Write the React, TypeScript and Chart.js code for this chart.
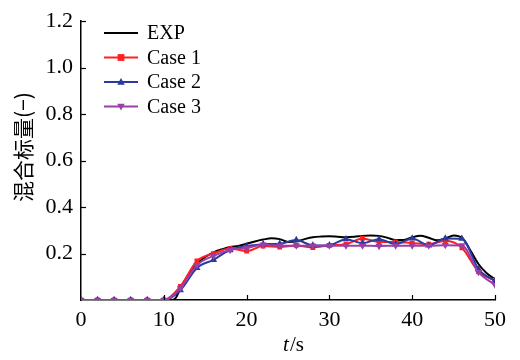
import React, { useEffect, useRef } from 'react';
import { Chart, registerables } from 'chart.js';

Chart.register(...registerables);

// ---- data ----
const expTime = [0, 2, 4, 6, 8, 10, 11, 11.5, 12, 13, 14, 15, 16, 17, 18, 19, 20, 21, 22, 23, 24, 25, 26, 27, 28, 29, 30, 31, 32, 33, 34, 35, 36, 37, 38, 39, 40, 41, 42, 43, 44, 45, 46, 47, 48, 49, 50];
const expValues = [0, 0, 0, 0, 0, 0, 0, 0.012, 0.05, 0.11, 0.155, 0.185, 0.205, 0.218, 0.228, 0.233, 0.242, 0.252, 0.26, 0.266, 0.262, 0.25, 0.252, 0.262, 0.27, 0.273, 0.274, 0.272, 0.27, 0.272, 0.276, 0.278, 0.276, 0.268, 0.258, 0.258, 0.27, 0.277, 0.268, 0.257, 0.265, 0.278, 0.268, 0.215, 0.155, 0.115, 0.09];

const caseTime = [0, 2, 4, 6, 8, 10, 12, 14, 16, 18, 20, 22, 24, 26, 28, 30, 32, 34, 36, 38, 40, 42, 44, 46, 48, 50];
const case1Values = [0, 0, 0, 0, 0, 0, 0.058, 0.168, 0.2, 0.222, 0.21, 0.232, 0.228, 0.235, 0.226, 0.235, 0.24, 0.265, 0.25, 0.25, 0.245, 0.24, 0.255, 0.225, 0.122, 0.085];
const case2Values = [0, 0, 0, 0, 0, 0, 0.042, 0.138, 0.173, 0.215, 0.232, 0.24, 0.242, 0.258, 0.235, 0.236, 0.262, 0.245, 0.262, 0.24, 0.265, 0.235, 0.265, 0.264, 0.133, 0.081];
const case3Values = [0, 0, 0, 0, 0, 0, 0.05, 0.15, 0.19, 0.215, 0.224, 0.238, 0.234, 0.234, 0.234, 0.234, 0.234, 0.234, 0.232, 0.234, 0.234, 0.234, 0.236, 0.235, 0.12, 0.065];

const seriesLabels = ['EXP', 'Case 1', 'Case 2', 'Case 3'];
const seriesColors = ['#000000', '#ff1f1f', '#2b3a9e', '#9a3fa8'];
const seriesMarkers = ['none', 'rect', 'triangle', 'triangleDown'];

const xTicks = [0, 10, 20, 30, 40, 50];
const yTicks = [0.2, 0.4, 0.6, 0.8, 1.0, 1.2];

const xTitleItalic = 't';
const xTitleRest = '/s';
const yTitle = '混合标量(−)';

const SERIF = '"Liberation Serif", "Times New Roman", serif';
const CJK = '"Noto Sans CJK SC", sans-serif';

function drawMarker(ctx: CanvasRenderingContext2D, kind: string, x: number, y: number, r: number, color: string) {
  ctx.save();
  ctx.fillStyle = color;
  ctx.beginPath();
  if (kind === 'rect') {
    ctx.rect(x - r, y - r, 2 * r, 2 * r);
  } else if (kind === 'triangle') {
    ctx.moveTo(x, y - r * 1.2);
    ctx.lineTo(x + r * 1.1, y + r * 0.8);
    ctx.lineTo(x - r * 1.1, y + r * 0.8);
    ctx.closePath();
  } else if (kind === 'triangleDown') {
    ctx.moveTo(x, y + r * 1.2);
    ctx.lineTo(x + r * 1.1, y - r * 0.8);
    ctx.lineTo(x - r * 1.1, y - r * 0.8);
    ctx.closePath();
  }
  ctx.fill();
  ctx.restore();
}

const decorPlugin = {
  id: 'decor',
  afterDraw(chart: any) {
    const ctx: CanvasRenderingContext2D = chart.ctx;
    const xs = chart.scales.x;
    const ys = chart.scales.y;
    const area = chart.chartArea;
    ctx.save();
    ctx.strokeStyle = '#000';
    ctx.lineWidth = 1.2;
    // inward ticks
    xTicks.forEach((v) => {
      if (v === 0) return;
      const px = Math.round(xs.getPixelForValue(v)) + 0.5;
      ctx.beginPath();
      ctx.moveTo(px, area.bottom);
      ctx.lineTo(px, area.bottom - 5);
      ctx.stroke();
    });
    yTicks.forEach((v) => {
      const py = Math.round(ys.getPixelForValue(v)) + 0.5;
      ctx.beginPath();
      ctx.moveTo(area.left, py);
      ctx.lineTo(area.left + 5, py);
      ctx.stroke();
    });
    // x title with italic t
    const cx = (area.left + area.right) / 2 + 5;
    const ty = 345;
    ctx.fillStyle = '#000';
    ctx.textBaseline = 'middle';
    ctx.font = `italic 21px ${SERIF}`;
    const w1 = ctx.measureText(xTitleItalic).width;
    ctx.font = `21px ${SERIF}`;
    const w2 = ctx.measureText(xTitleRest).width;
    const start = cx - (w1 + w2) / 2;
    ctx.textAlign = 'left';
    ctx.font = `italic 21px ${SERIF}`;
    ctx.fillText(xTitleItalic, start, ty);
    ctx.font = `21px ${SERIF}`;
    ctx.fillText(xTitleRest, start + w1 + 1, ty);
    // y title (rotated)
    ctx.save();
    ctx.translate(23, 147);
    ctx.rotate(-Math.PI / 2);
    ctx.font = `21px ${CJK}`;
    ctx.textAlign = 'center';
    ctx.textBaseline = 'middle';
    ctx.fillStyle = '#000';
    ctx.fillText(yTitle, 0, 0);
    ctx.restore();
    // legend
    seriesLabels.forEach((label, i) => {
      const ry = 33 + i * 24.5;
      ctx.strokeStyle = seriesColors[i];
      ctx.lineWidth = 2;
      ctx.beginPath();
      ctx.moveTo(104, ry);
      ctx.lineTo(138, ry);
      ctx.stroke();
      if (seriesMarkers[i] !== 'none') drawMarker(ctx, seriesMarkers[i], 121, ry, 3.4, seriesColors[i]);
      ctx.fillStyle = '#000';
      ctx.font = `20px ${SERIF}`;
      ctx.textAlign = 'left';
      ctx.textBaseline = 'middle';
      ctx.fillText(label, 147, ry + 1);
    });
    ctx.restore();
  },
};

function pointStyleFor(kind: string) {
  if (kind === 'rect') return { pointStyle: 'rect', pointRotation: 0 };
  if (kind === 'triangle') return { pointStyle: 'triangle', pointRotation: 0 };
  if (kind === 'triangleDown') return { pointStyle: 'triangle', pointRotation: 180 };
  return { pointStyle: false, pointRotation: 0 };
}

export default function App() {
  const canvasRef = useRef<HTMLCanvasElement | null>(null);

  useEffect(() => {
    if (!canvasRef.current) return;
    const caseSeries = [case1Values, case2Values, case3Values];
    const datasets: any[] = [
      {
        label: seriesLabels[0],
        data: expTime.map((t, i) => ({ x: t, y: expValues[i] })),
        borderColor: seriesColors[0],
        backgroundColor: seriesColors[0],
        borderWidth: 2,
        pointRadius: 0,
        cubicInterpolationMode: 'monotone',
        order: 4,
      },
      ...caseSeries.map((vals, k) => {
        const i = k + 1;
        const ps = pointStyleFor(seriesMarkers[i]);
        return {
          label: seriesLabels[i],
          data: caseTime.map((t, j) => ({ x: t, y: vals[j] })),
          borderColor: seriesColors[i],
          backgroundColor: seriesColors[i],
          borderWidth: 2,
          pointRadius: seriesMarkers[i] === 'rect' ? 3.4 : 4.2,
          pointBorderWidth: 0,
          pointStyle: ps.pointStyle,
          pointRotation: ps.pointRotation,
          cubicInterpolationMode: 'monotone',
          order: 4 - i,
        };
      }),
    ];

    const chart = new Chart(canvasRef.current, {
      type: 'line',
      data: { datasets },
      plugins: [decorPlugin],
      options: {
        animation: false,
        responsive: false,
        devicePixelRatio: 1,
        layout: { padding: { top: 15, right: 25, left: 0, bottom: 0 } },
        plugins: {
          legend: { display: false },
          tooltip: { enabled: false },
        },
        scales: {
          x: {
            type: 'linear',
            min: 0,
            max: 50,
            afterBuildTicks: (s: any) => {
              s.ticks = xTicks.map((v) => ({ value: v }));
            },
            afterFit: (s: any) => {
              s.height = 60;
            },
            grid: { display: false, drawTicks: false },
            border: { display: true, color: '#000', width: 1.5 },
            ticks: {
              color: '#000',
              font: { family: SERIF, size: 22 },
              padding: 7,
              maxRotation: 0,
            },
            title: { display: false },
          },
          y: {
            type: 'linear',
            min: 0,
            max: 1.2,
            afterBuildTicks: (s: any) => {
              s.ticks = yTicks.map((v) => ({ value: v }));
            },
            afterFit: (s: any) => {
              s.width = 81;
            },
            grid: { display: false, drawTicks: false },
            border: { display: true, color: '#000', width: 1.5 },
            ticks: {
              color: '#000',
              font: { family: SERIF, size: 22 },
              padding: 8,
              callback: (v: any) => Number(v).toFixed(1),
            },
            title: { display: false },
          },
        },
      },
    });
    return () => chart.destroy();
  }, []);

  return (
    <div style={{ position: 'fixed', left: 0, top: 0, width: 520, height: 360, background: '#fff' }}>
      <canvas ref={canvasRef} width={520} height={360} />
    </div>
  );
}
